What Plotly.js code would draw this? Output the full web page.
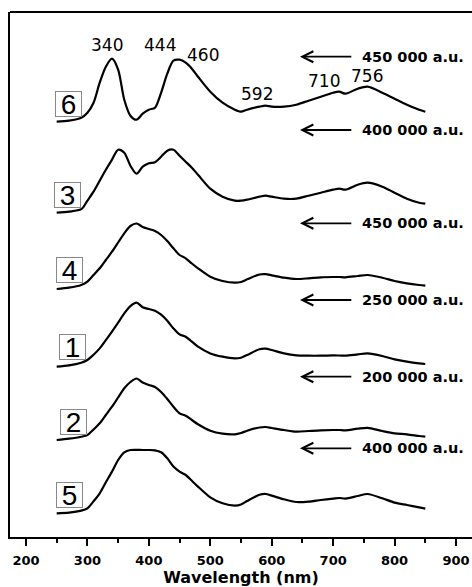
<!DOCTYPE html>
<html>
<head>
<meta charset="utf-8">
<script src="https://cdn.plot.ly/plotly-3.0.1.min.js"></script>
<style>html,body{margin:0;padding:0;background:#fff;}#chart{width:472px;height:587px;}</style>
</head>
<body>
<div id="chart"></div>
<script>
// Wavelength grid (nm)
const wavelength = [250,270,290,300,310,320,330,340,350,360,370,380,390,400,410,420,430,440,450,460,470,480,500,520,540,550,560,580,590,600,620,640,660,680,700,710,720,740,756,780,800,820,840,850];

// Sample labels, top to bottom
const sampleLabels = ['6','3','4','1','2','5'];

// Vertical stacking offsets (a.u., arbitrary)
const offsets = [415.3, 324.3, 248, 170.3, 97, 23.7];

// Intensities relative to each curve's baseline (a.u.)
const sample6 = [0,1,4,9,19,39,55,63,52,22,6,2,8,12,14,29,48,61,62,59,53,45,30,19,12,10,12,15,16,15,15,17,21,25,29,30,28,33,35,29,23,17,12,10];
const sample3 = [0,1,3.5,12,21,32,43,53,63,60,47,39,46,49.5,50.5,56,62,63,57,51,45,38,24,16,12,12,13,16,17,16,14,14,17,20,23,24,23,28,30,26,20,14,10,9];
const sample4 = [0,1.3,4,7.3,14,20.7,29,37.3,46.5,55.7,63,65.5,62,60,58,54,48,40.7,34,30.7,25.5,20.7,12.3,8,6.3,7,9.7,14.5,14.8,13.7,11.3,10,10.7,11.7,12,12,11.7,13,14,11.3,8,5.7,4,3.3];
const sample1 = [0,1.3,4,6.7,12,18.3,26.5,35,44,53.3,60.5,64,59.5,57.7,56,52,46,38.3,32.3,30,25,20,13.3,10,8.3,9,11.7,17.5,18,16.7,13.3,11.3,11,11,11.3,11.2,11,12.3,13.3,10.7,7.3,5,3.3,2.7];
const sample2 = [0,1.3,3.3,5,10.5,16.7,25,33.3,42.5,51.7,58,61.5,57.5,55,53,48,41,33.3,26.7,24.3,20,15.7,9.3,6.3,5.7,7,9.3,12.5,13,12,10,8.3,9,9.7,10,10,9.7,11.3,12.2,9,6.7,5.7,4,3.3];
const sample5 = [0,0.7,2.7,5,12,20,31,41.7,53.3,61,63.3,63.5,63.3,63.3,63,61,55,46.7,41.7,38.3,32.5,26.7,16,10,7.7,8.8,12.3,18.5,19.3,17.7,14,11.3,11.7,13.3,14.7,15.3,14.7,17.3,19.3,15,10.7,8.3,6,4.7];

// Scale indicators
const scaleLabels = ['450 000 a.u.','400 000 a.u.','450 000 a.u.','250 000 a.u.','200 000 a.u.','400 000 a.u.'];
const scaleLevels = [480.3, 407, 313.7, 237, 160.3, 88.7];

// Peak labels
const peakLabels = ['340','444','460','592','710','756'];

const series = [sample6, sample3, sample4, sample1, sample2, sample5];

const traces = series.map((s, i) => ({
  x: wavelength,
  y: s.map(v => v + offsets[i]),
  type: 'scatter',
  mode: 'lines',
  line: {color: '#000', width: 2.2, shape: 'spline', smoothing: 0.8},
  hoverinfo: 'skip',
  showlegend: false
}));

const annotations = [];

// boxed sample labels
const boxPos = [[269,433],[267,342],[271.6,267],[275.7,190],[277,115],[271.6,42.5]];
sampleLabels.forEach((t, i) => {
  annotations.push({
    x: boxPos[i][0], y: boxPos[i][1], xref: 'x', yref: 'y',
    text: t, showarrow: false,
    font: {family: 'Liberation Sans, Arial, sans-serif', size: 28, color: '#000'},
    width: 25, height: 24, borderpad: 0, borderwidth: 1, bordercolor: '#888',
    xanchor: 'center', yanchor: 'middle'
  });
});

// arrows and scale labels
scaleLabels.forEach((t, i) => {
  annotations.push({
    x: 646, y: scaleLevels[i], ax: 732, ay: scaleLevels[i],
    xref: 'x', yref: 'y', axref: 'x', ayref: 'y',
    text: '', showarrow: true, arrowhead: 5, arrowsize: 1.2, arrowwidth: 1.8, arrowcolor: '#000'
  });
  annotations.push({
    x: 743, y: scaleLevels[i], xref: 'x', yref: 'y',
    text: '<b>' + t + '</b>', showarrow: false, xanchor: 'left', yanchor: 'middle',
    font: {family: 'DejaVu Sans, sans-serif', size: 14.5, color: '#000'}
  });
});

// peak labels
const peakPos = [[331.9,492],[418,492],[488,482],[576,443],[685,456],[755,461]];
peakLabels.forEach((t, i) => {
  annotations.push({
    x: peakPos[i][0], y: peakPos[i][1], xref: 'x', yref: 'y',
    text: t, showarrow: false, xanchor: 'center', yanchor: 'middle',
    font: {family: 'DejaVu Sans, sans-serif', size: 17, color: '#000'}
  });
});

const layout = {
  width: 472, height: 587,
  margin: {l: 10, r: 0, t: 12, b: 50},
  paper_bgcolor: '#fff', plot_bgcolor: '#fff',
  showlegend: false,
  xaxis: {
    range: [174, 926],
    dtick: 100, tick0: 0,
    ticks: 'outside', ticklen: 7, tickwidth: 2, tickcolor: '#000',
    minor: {dtick: 50, ticks: 'outside', ticklen: 4, tickwidth: 2, tickcolor: '#000'},
    showline: true, linecolor: '#000', linewidth: 2,
    showgrid: false, zeroline: false,
    ticklabelstandoff: 3,
    tickfont: {family: 'DejaVu Sans, sans-serif', size: 13, color: '#000', weight: 'bold'},
    title: {text: '<b>Wavelength (nm)</b>', font: {family: 'DejaVu Sans, sans-serif', size: 16, color: '#000'}, standoff: 8}
  },
  yaxis: {
    range: [0, 525],
    showticklabels: false, ticks: '',
    showline: true, linecolor: '#000', linewidth: 2,
    showgrid: false, zeroline: false
  },
  shapes: [{
    type: 'line', xref: 'paper', yref: 'paper', x0: 0, x1: 1, y0: 1, y1: 1,
    line: {color: '#000', width: 2}
  }],
  annotations: annotations
};

Plotly.newPlot('chart', traces, layout, {staticPlot: true, displayModeBar: false});
</script>
</body>
</html>
